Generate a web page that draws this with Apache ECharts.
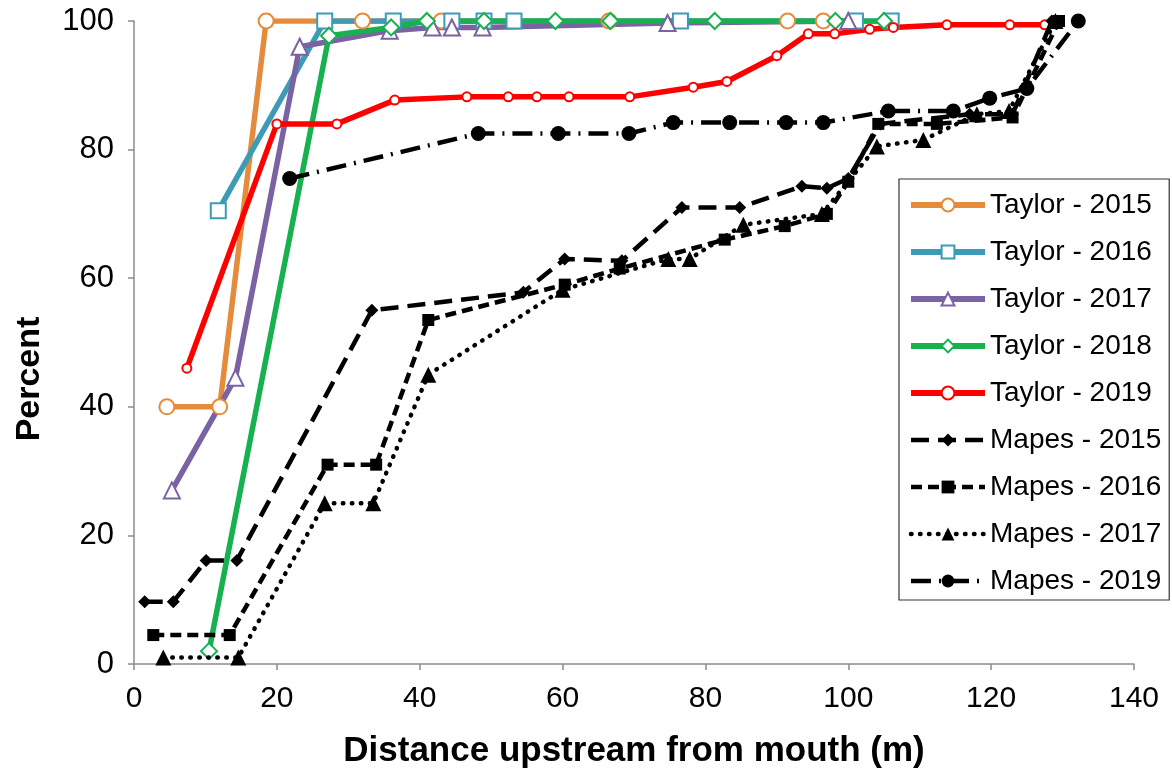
<!DOCTYPE html>
<html>
<head>
<meta charset="utf-8">
<script src="https://cdn.jsdelivr.net/npm/echarts@6/dist/echarts.min.js"></script>
<style>
html,body{margin:0;padding:0;background:#fff;}
#chart{width:1172px;height:772px;}
</style>
</head>
<body>
<div id="chart"></div>
<script>
// ---- data: [distance (m), percent] ----
const seriesNames = ['Taylor - 2015','Taylor - 2016','Taylor - 2017','Taylor - 2018','Taylor - 2019',
                     'Mapes - 2015','Mapes - 2016','Mapes - 2017','Mapes - 2019'];
const taylor2015 = [[4.6,40],[12,40],[18.5,100],[32,100],[43,100],[66.5,100],[91.5,100],[96.5,100]];
const taylor2016 = [[11.8,70.5],[26.7,100],[36.3,100],[44.5,100],[49,100],[53.2,100],[76.5,100],[101,100],[106,100]];
const taylor2017 = [[5.3,27],[14.2,44.5],[23.2,96],[35.8,98.5],[41.8,99],[44.5,99],[48.8,99],[74.7,99.7],[100,100]];
const taylor2018 = [[10.5,2],[27.3,97.7],[36,99],[41,100],[49,100],[59,100],[66.7,100],[81.3,100],[98.2,100],[105,100]];
const taylor2019 = [[7.4,46],[20,84],[28.4,84],[36.5,87.7],[46.6,88.2],[52.4,88.2],[56.4,88.2],[60.9,88.2],[69.4,88.2],
                    [78.3,89.7],[83,90.6],[90,94.6],[94.4,98],[98.1,98],[103,98.7],[106.3,99],[113.8,99.4],[122.6,99.4],[127.5,99.4]];
const mapes2015 = [[1.5,9.7],[5.5,9.7],[10.1,16.1],[14.4,16.1],[33.3,55],[54.5,57.8],[60.3,63],[68.3,62.7],[76.7,71],[84.8,71],
                   [93.5,74.3],[97,74],[100,75.5],[104.5,84],[117,85.5],[123,85.5],[128.5,100]];
const mapes2016 = [[2.7,4.5],[13.4,4.5],[27.1,31],[33.9,31],[41.2,53.5],[60.3,59],[68,61.5],[82.7,66],[91.1,68.1],[97,70],
                   [100,75],[104.2,84],[112.4,84],[123,85],[129.5,100]];
const mapes2017 = [[4.1,1],[14.6,1],[26.7,25],[33.5,25],[41.2,45],[60,58.2],[74.8,63],[77.8,63],[85.3,68.3],[96.3,70],
                   [104,80.5],[110.5,81.5],[118,85.5],[122.5,86],[129,100]];
const mapes2019 = [[21.8,75.5],[48.2,82.5],[59.4,82.5],[69.3,82.5],[75.5,84.2],[83.4,84.2],[91.3,84.2],[96.5,84.2],
                   [105.6,86],[114.7,86],[119.8,88],[125,89.5],[132.2,100]];
const xTicks = [0,20,40,60,80,100,120,140];
const yTicks = [0,20,40,60,80,100];
const xTitle = 'Distance upstream from mouth (m)';
const yTitle = 'Percent';

const FONT = '"Liberation Sans", Arial, sans-serif';

function taylor(name, data, color, symbol, size) {
  return {
    name, type: 'line', data, symbol, symbolSize: size, showAllSymbol: true,
    lineStyle: { color, width: 5.5 },
    itemStyle: { color, borderColor: color, borderWidth: 1.2 },
    z: 2
  };
}
function mapes(name, data, dash, symbol, size, cap) {
  return {
    name, type: 'line', data, symbol, symbolSize: size, showAllSymbol: true,
    lineStyle: { color: '#000', width: 4.5, type: dash, cap: cap || 'butt' },
    itemStyle: { color: '#000' },
    z: 3
  };
}

const legendData = seriesNames.map((n, i) => ({
  name: n,
  lineStyle: { width: i < 5 ? 6 : 4.5 }
}));

const chart = echarts.init(document.getElementById('chart'), null, { renderer: 'canvas' });
chart.setOption({
  animation: false,
  backgroundColor: '#fff',
  grid: { left: 134, right: 38, top: 21, bottom: 108, containLabel: false, outerBoundsMode: 'none' },
  graphic: [{
    type: 'text', x: 30, y: 379, rotation: Math.PI / 2,
    style: { text: yTitle, font: 'bold 34px ' + FONT, fill: '#000', align: 'center', verticalAlign: 'middle' }
  }],
  xAxis: {
    type: 'value', min: xTicks[0], max: xTicks[xTicks.length-1], interval: 20,
    name: xTitle, nameLocation: 'middle', nameGap: 70,
    nameTextStyle: { fontFamily: FONT, fontSize: 35, fontWeight: 'bold', color: '#000' },
    axisLine: { lineStyle: { color: '#8c8c8c', width: 1.5 } },
    axisTick: { show: true, length: 6, lineStyle: { color: '#8c8c8c', width: 1.5 } },
    axisLabel: { fontFamily: FONT, fontSize: 30, color: '#000', margin: 20 },
    splitLine: { show: false }
  },
  yAxis: {
    type: 'value', min: yTicks[0], max: yTicks[yTicks.length-1], interval: 20,
    axisLine: { show: true, lineStyle: { color: '#8c8c8c', width: 1.5 } },
    axisTick: { show: true, length: 6, lineStyle: { color: '#8c8c8c', width: 1.5 } },
    axisLabel: { fontFamily: FONT, fontSize: 31, color: '#000', margin: 20 },
    splitLine: { show: false }
  },
  legend: {
    orient: 'vertical', left: 899, top: 179,
    data: legendData,
    itemWidth: 74, itemHeight: 16, itemGap: 17,
    padding: [11, 8, 4, 9],
    borderColor: '#333', borderWidth: 1.2, backgroundColor: '#fff',
    textStyle: { fontFamily: FONT, fontSize: 28, color: '#000', lineHeight: 30 },
    z: 10
  },
  series: [
    taylor(seriesNames[0], taylor2015, '#E48B3C', 'emptyCircle', 15),
    taylor(seriesNames[1], taylor2016, '#3D9BB7', 'emptyRect', 15),
    taylor(seriesNames[2], taylor2017, '#7B62A3', 'emptyTriangle', 16),
    taylor(seriesNames[3], taylor2018, '#17B150', 'emptyDiamond', 16),
    taylor(seriesNames[4], taylor2019, '#FF0000', 'emptyCircle', 9),
    mapes(seriesNames[5], mapes2015, [18, 9], 'diamond', 13),
    mapes(seriesNames[6], mapes2016, [11, 6], 'rect', 12),
    mapes(seriesNames[7], mapes2017, [0.5, 8.5], 'triangle', 16, 'round'),
    mapes(seriesNames[8], mapes2019, [20, 8, 2, 8], 'circle', 15)
  ]
});
</script>
</body>
</html>
